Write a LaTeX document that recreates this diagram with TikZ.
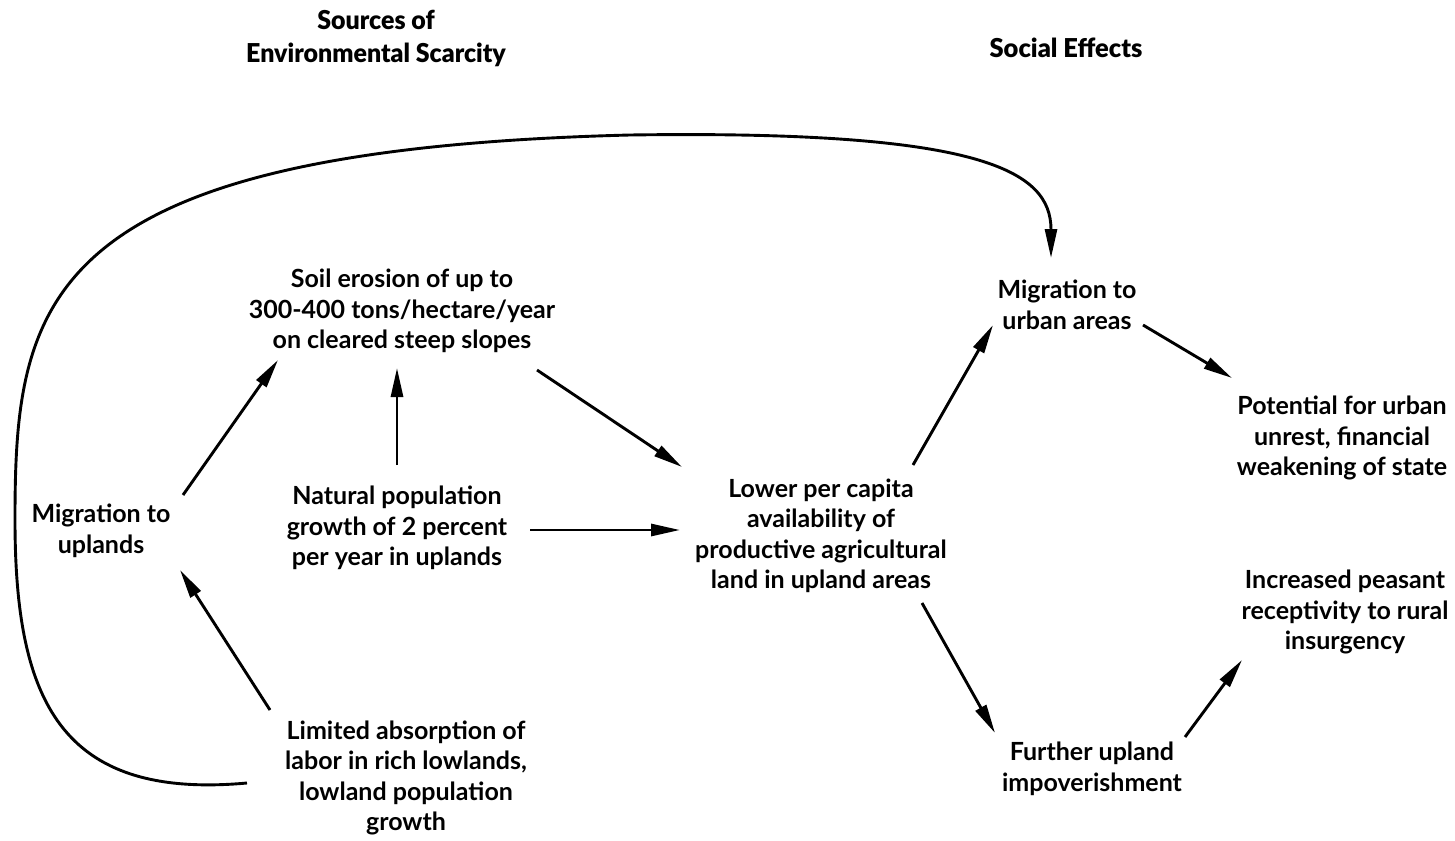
\documentclass[tikz,border=0pt]{standalone}
\usepackage{fontspec}
\setmainfont{Lato}
\newfontfamily\ttlfont{Lato Black}
\usetikzlibrary{arrows.meta,calc}
\tikzset{
  lbl/.style={align=center,inner sep=0pt,font=\fontsize{25}{30.5}\selectfont\bfseries},
  ttl/.style={align=center,inner sep=0pt,font=\fontsize{26}{33}\selectfont\ttlfont},
  arr/.style={line width=2.9pt,-{Triangle[length=29pt,width=12pt]}}
}
\begin{document}
\begin{tikzpicture}[x=1pt,y=-1pt]
\useasboundingbox (0,0) rectangle (1455,840);
\node[ttl] (t1) at (376,38) {\scalebox{0.96}[1]{Sources of}\\\scalebox{0.96}[1]{Environmental Scarcity}};
\node[ttl] (t2) at (1066,48) {\scalebox{0.98}[1]{Social Effects}};
\node[lbl] (soil) at (402,311) {Soil erosion of up to\\300-400 tons/hectare/year\\on cleared steep slopes};
\node[lbl] (mu) at (101,531) {Migration to\\uplands};
\node[lbl] (nat) at (397,528) {Natural population\\growth of 2 percent\\per year in uplands};
\node[lbl] (lim) at (406,778) {Limited absorption of\\labor in rich lowlands,\\lowland population\\growth};
\node[lbl] (low) at (821,536) {Lower per capita\\availability of\\productive agricultural\\land in upland areas};
\node[lbl] (murb) at (1067,305) {Migration to\\urban areas};
\node[lbl] (pot) at (1342,438) {Potential for urban\\unrest, financial\\weakening of state};
\node[lbl] (inc) at (1345,612) {Increased peasant\\receptivity to rural\\insurgency};
\node[lbl] (fur) at (1092,769) {Further upland\\impoverishment};

\draw[arr] ($(mu)+(82,-36)$) -- ($(soil)+(-124,49)$);
\draw[arr] ($(nat)+(0,-63)$) -- ($(soil)+(-5,57)$);
\draw[arr] ($(soil)+(135,59)$) -- ($(low)+(-139,-69)$);
\draw[arr] ($(nat)+(133,2)$) -- ($(low)+(-141,-6)$);
\draw[arr] ($(lim)+(-136,-68)$) -- ($(mu)+(79,39)$);
\draw[arr] ($(low)+(92,-71)$) -- ($(murb)+(-74,20)$);
\draw[arr] ($(murb)+(76,20)$) -- ($(pot)+(-110,-60)$);
\draw[arr] ($(low)+(101,67)$) -- ($(fur)+(-97,-36)$);
\draw[arr] ($(fur)+(93,-32)$) -- ($(inc)+(-103,48)$);
\draw[arr] ($(lim)+(-159,5)$) .. controls (60,800) and (15,700) .. (15,520)
  .. controls (15,300) and (40,150) .. (630,135)
  .. controls (980,130) and (1051,170) .. ($(murb)+(-16,-47)$);
\end{tikzpicture}
\end{document}
